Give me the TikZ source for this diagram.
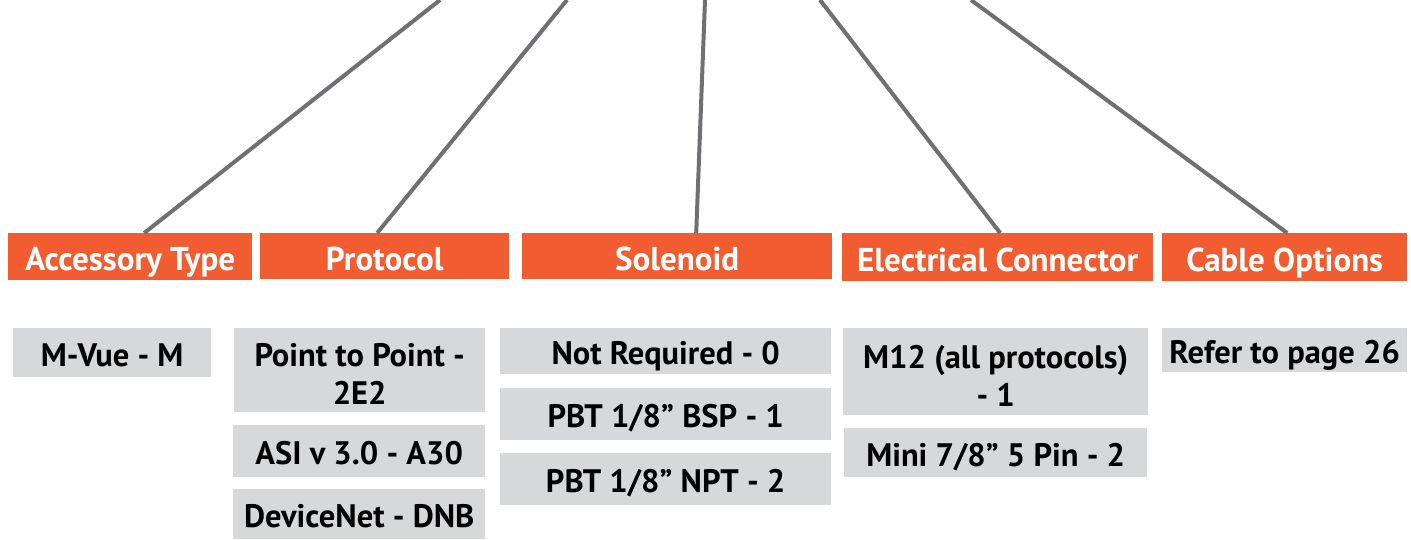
\documentclass[tikz,border=0pt]{standalone}
\usepackage{fontspec}
\setmainfont{PT Sans}
\usetikzlibrary{calc}
\definecolor{headorange}{HTML}{F15D31}
\definecolor{optgray}{HTML}{D7D8DA}
\definecolor{linegray}{HTML}{6F7073}
\newcommand{\twoline}[2]{\rule{0pt}{31pt}#1\\#2}

\begin{document}
\begin{tikzpicture}[x=1pt,y=-1pt,
 header/.style={fill=headorange,text=white,inner sep=0pt,anchor=north west,align=center,
   text height=28pt,text depth=0pt,font=\fontsize{33}{38}\selectfont\bfseries},
 option/.style={fill=optgray,text=black,inner sep=0pt,anchor=north west,align=center,
   text height=27.5pt,text depth=0pt,font=\fontsize{32.5}{38}\selectfont\bfseries},
 twobox/.style={fill=optgray,text=black,inner sep=0pt,anchor=north west,align=center,
   font=\fontsize{32.5}{38}\selectfont\bfseries},
 link/.style={linegray,line width=4pt}]
\useasboundingbox (0,0) rectangle (1411,539);
% header row
\node[header,minimum width=244,minimum height=47] (acc) at (8,233) {Accessory Type};
\node[header,minimum width=249,minimum height=46] (proto) at (260,233) {Protocol};
\node[header,minimum width=310,minimum height=46] (sol) at (522,233) {Solenoid};
\node[header,minimum width=311,minimum height=48] (elec) at (842,233) {Electrical Connector};
\node[header,minimum width=245,minimum height=48] (cable) at (1162,233) {Cable Options};
% option boxes
\node[option,minimum width=198,minimum height=49] (mvue) at (13,328) {M-Vue - M};
\node[twobox,minimum width=251,minimum height=84] (p2p) at (234,328) {\twoline{Point to Point -}{2E2}};
\node[option,minimum width=252,minimum height=52] (asi) at (233,425) {ASI v 3.0 - A30};
\node[option,minimum width=252,minimum height=50] (dnb) at (233,489) {DeviceNet - DNB};
\node[option,minimum width=331,minimum height=46] (notreq) at (500,328) {Not Required - 0};
\node[option,minimum width=331,minimum height=52] (bsp) at (500,388) {PBT 1/8” BSP - 1};
\node[option,minimum width=331,minimum height=52] (npt) at (500,453) {PBT 1/8” NPT - 2};
\node[twobox,minimum width=305,minimum height=87] (mtwelve) at (843,328) {\twoline{M12 (all protocols)}{- 1}};
\node[option,minimum width=303,minimum height=49] (mini) at (844,428) {Mini 7/8” 5 Pin - 2};
\node[option,minimum width=245,minimum height=44] (refer) at (1162,328) {Refer to page 26};
% lines from the top edge
\coordinate (tacc) at (440,0);
\coordinate (tproto) at (567,0);
\coordinate (tsol) at (705,0);
\coordinate (telec) at (820,0);
\coordinate (tcable) at (971,0);
\draw[link] (tacc)--([xshift=14]acc.north);
\draw[link] (tproto)--([xshift=-7.5]proto.north);
\draw[link] (tsol)--([xshift=19]sol.north);
\draw[link] (telec)--([xshift=2.5]elec.north);
\draw[link] (tcable)--([xshift=2.5]cable.north);
\end{tikzpicture}
\end{document}
